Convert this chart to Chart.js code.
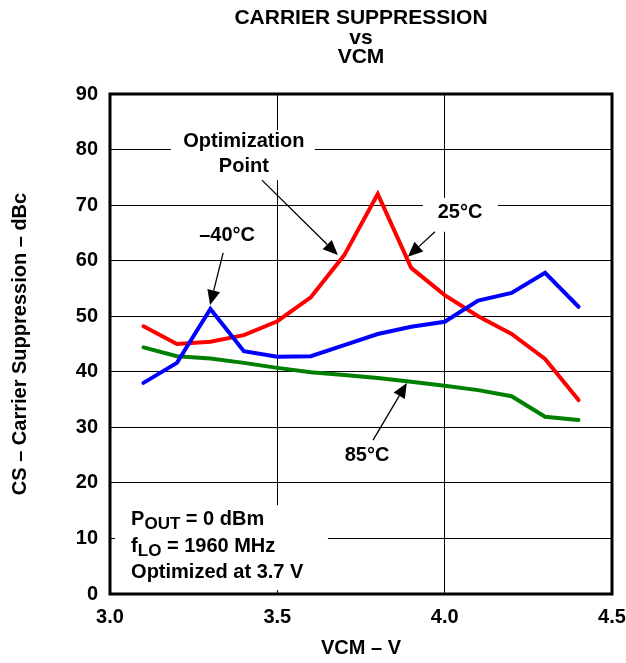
<!DOCTYPE html>
<html>
<head>
<meta charset="utf-8">
<script src="https://cdn.jsdelivr.net/npm/chart.js@4.4.1/dist/chart.umd.min.js"></script>
<style>
  html, body { margin: 0; padding: 0; background: #ffffff; }
  #wrap { width: 626px; height: 663px; }
</style>
</head>
<body>
<div id="wrap"><canvas id="c" width="626" height="663"></canvas></div>
<script>
// Common-mode voltage sweep (V)
const vcm = [3.1, 3.2, 3.3, 3.4, 3.5, 3.6, 3.7, 3.8, 3.9, 4.0, 4.1, 4.2, 4.3, 4.4];
// Carrier suppression (dBc) per temperature
const csMinus40 = [38.0, 41.6, 51.3, 43.7, 42.7, 42.8, 44.8, 46.8, 48.1, 49.0, 52.8, 54.2, 57.8, 51.7];
const cs25      = [48.2, 45.0, 45.4, 46.6, 49.1, 53.4, 61.0, 72.0, 58.7, 53.8, 50.0, 46.8, 42.3, 34.9];
const cs85      = [44.4, 42.8, 42.4, 41.6, 40.7, 39.9, 39.4, 38.9, 38.2, 37.5, 36.7, 35.6, 31.9, 31.3];
// Axis ticks
const xTickValues = [3.0, 3.5, 4.0, 4.5];
const yTickValues = [0, 10, 20, 30, 40, 50, 60, 70, 80, 90];

const FONT = "'Liberation Sans', Arial, Helvetica, sans-serif";

// Callout labels, anchored in data units (VCM, dBc)
const calloutText = [
  { text: 'Optimization', x: 3.400, y: 81.4 },
  { text: 'Point',        x: 3.400, y: 76.9 },
  { text: '25\u00B0C',    x: 4.046, y: 68.6 },
  { text: '\u201340\u00B0C', x: 3.350, y: 64.6 },
  { text: '85\u00B0C',    x: 3.768, y: 25.0 }
];
// Callout arrows: [fromX, fromY, tipX, tipY]
const calloutArrows = [
  [3.454, 74.5, 3.681, 61.0],
  [3.971, 65.2, 3.890, 60.7],
  [3.338, 61.4, 3.299, 52.0],
  [3.786, 27.7, 3.887, 38.0]
];
// White areas behind labels that interrupt the grid: [x1, yTop, x2, yBottom]
const clearBoxes = [
  [3.182, 83.5, 3.612, 74.5],
  [3.935, 71.3, 4.159, 65.2],
  [3.015, 16.0, 3.651, 0.7]
];
// Test conditions block (left edge, baseline rows)
const condX = 3.063;
const condRows = [
  [{ t: 'P', s: 20 }, { t: 'OUT', s: 17, dy: 4 }, { t: ' = 0 dBm', s: 20 }],
  [{ t: 'f', s: 20 }, { t: 'LO', s: 17, dy: 4 }, { t: ' = 1960 MHz', s: 20 }],
  [{ t: 'Optimized at 3.7 V', s: 20 }]
];
const condBaselines = [12.4, 7.6, 2.9];

const titleLines = ['CARRIER SUPPRESSION', 'vs', 'VCM'];

function toPx(chart, x, y) {
  return [chart.scales.x.getPixelForValue(x), chart.scales.y.getPixelForValue(y)];
}

function drawArrow(ctx, x1, y1, x2, y2) {
  const ang = Math.atan2(y2 - y1, x2 - x1);
  const len = 15, half = 6.5;
  const bx = x2 - len * Math.cos(ang), by = y2 - len * Math.sin(ang);
  ctx.beginPath();
  ctx.moveTo(x1, y1);
  ctx.lineTo(bx, by);
  ctx.stroke();
  ctx.beginPath();
  ctx.moveTo(x2, y2);
  ctx.lineTo(bx + half * Math.sin(ang), by - half * Math.cos(ang));
  ctx.lineTo(bx - half * Math.sin(ang), by + half * Math.cos(ang));
  ctx.closePath();
  ctx.fill();
}

const decorations = {
  id: 'decorations',
  beforeDatasetsDraw(chart) {
    const ctx = chart.ctx;
    ctx.save();
    ctx.fillStyle = '#ffffff';
    for (const b of clearBoxes) {
      const [x1, y1] = toPx(chart, b[0], b[1]);
      const [x2, y2] = toPx(chart, b[2], b[3]);
      ctx.fillRect(x1, y1, x2 - x1, y2 - y1);
    }
    ctx.restore();
  },
  afterDatasetsDraw(chart) {
    const ctx = chart.ctx;
    const a = chart.chartArea;
    ctx.save();
    // plot frame
    ctx.strokeStyle = '#000000';
    ctx.lineWidth = 3;
    ctx.strokeRect(a.left, a.top, a.right - a.left, a.bottom - a.top);

    // callout labels
    ctx.fillStyle = '#000000';
    ctx.font = 'bold 20px ' + FONT;
    ctx.textAlign = 'center';
    ctx.textBaseline = 'middle';
    for (const c of calloutText) {
      const [x, y] = toPx(chart, c.x, c.y);
      ctx.fillText(c.text, x, y);
    }
    // callout arrows
    ctx.lineWidth = 1.3;
    for (const r of calloutArrows) {
      const [x1, y1] = toPx(chart, r[0], r[1]);
      const [x2, y2] = toPx(chart, r[2], r[3]);
      drawArrow(ctx, x1, y1, x2, y2);
    }
    // test conditions
    ctx.textAlign = 'left';
    ctx.textBaseline = 'alphabetic';
    condRows.forEach((row, i) => {
      let [x, y] = toPx(chart, condX, condBaselines[i]);
      for (const seg of row) {
        ctx.font = 'bold ' + seg.s + 'px ' + FONT;
        ctx.fillText(seg.t, x, y + (seg.dy || 0));
        x += ctx.measureText(seg.t).width;
      }
    });
    // chart title, centred over the plot
    ctx.textAlign = 'center';
    ctx.font = 'bold 21px ' + FONT;
    const cx = (a.left + a.right) / 2;
    const baselines = [24, 44, 63];
    titleLines.forEach((t, i) => ctx.fillText(t, cx, baselines[i]));
    ctx.restore();
  }
};

const lineStyle = { borderWidth: 4, pointRadius: 0, tension: 0, borderCapStyle: 'round', borderJoinStyle: 'miter', fill: false };

new Chart(document.getElementById('c'), {
  type: 'line',
  data: {
    datasets: [
      Object.assign({ label: '\u221240\u00B0C', data: vcm.map((v, i) => ({ x: v, y: csMinus40[i] })), borderColor: '#0000ff' }, lineStyle),
      Object.assign({ label: '25\u00B0C', data: vcm.map((v, i) => ({ x: v, y: cs25[i] })), borderColor: '#ff0000' }, lineStyle),
      Object.assign({ label: '85\u00B0C', data: vcm.map((v, i) => ({ x: v, y: cs85[i] })), borderColor: '#008000' }, lineStyle)
    ]
  },
  options: {
    responsive: false,
    animation: false,
    devicePixelRatio: 1,
    layout: { padding: { top: 94, right: 14, bottom: 0, left: 0 } },
    plugins: { legend: { display: false }, title: { display: false }, tooltip: { enabled: false } },
    scales: {
      x: {
        type: 'linear',
        min: 3.0, max: 4.5,
        afterBuildTicks: s => { s.ticks = xTickValues.map(v => ({ value: v })); },
        afterFit: s => { s.height = 69; s.paddingLeft = 0; s.paddingRight = 0; },
        grid: { color: '#000000', lineWidth: 1, drawTicks: false },
        border: { display: false },
        ticks: {
          padding: 11, color: '#000000', maxRotation: 0,
          font: { family: FONT, size: 20, weight: 'bold' },
          callback: v => Number(v).toFixed(1)
        },
        title: {
          display: true, text: 'VCM \u2013 V', color: '#000000',
          font: { family: FONT, size: 20, weight: 'bold' },
          padding: { top: 0, bottom: 3 }
        }
      },
      y: {
        min: 0, max: 90,
        afterBuildTicks: s => { s.ticks = yTickValues.map(v => ({ value: v })); },
        afterFit: s => { s.width = 110; },
        grid: { color: '#000000', lineWidth: 1, drawTicks: false },
        border: { display: false },
        ticks: {
          padding: 12, color: '#000000',
          font: { family: FONT, size: 20, weight: 'bold' }
        },
        title: {
          display: true, text: 'CS \u2013 Carrier Suppression \u2013 dBc', color: '#000000',
          font: { family: FONT, size: 20, weight: 'bold' },
          padding: { top: 8, bottom: 0 }
        }
      }
    }
  },
  plugins: [decorations]
});
</script>
</body>
</html>
